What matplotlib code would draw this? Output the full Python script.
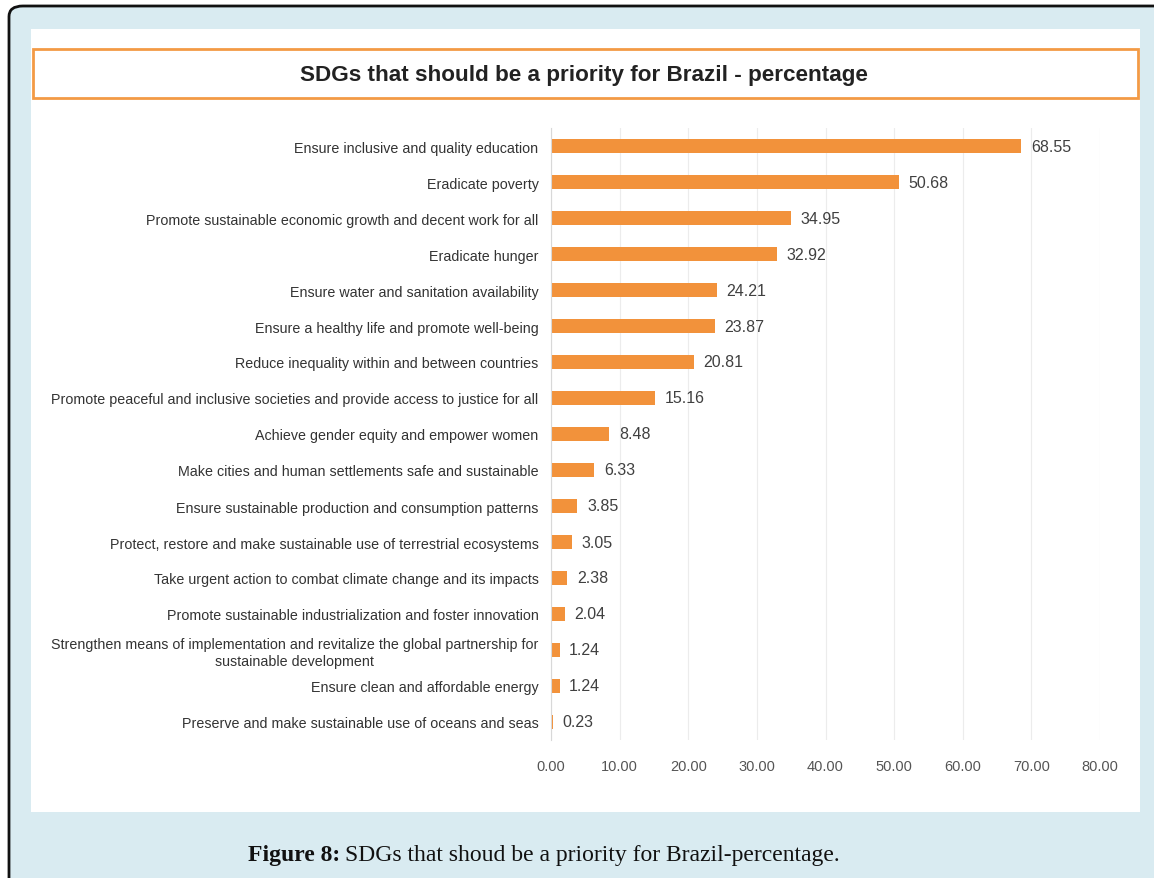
import matplotlib.pyplot as plt
from matplotlib.patches import FancyBboxPatch, Rectangle

categories = [
    'Ensure inclusive and quality education',
    'Eradicate poverty',
    'Promote sustainable economic growth and decent work for all',
    'Eradicate hunger',
    'Ensure water and sanitation availability',
    'Ensure a healthy life and promote well-being',
    'Reduce inequality within and between countries',
    'Promote peaceful and inclusive societies and provide access to justice for all',
    'Achieve gender equity and empower women',
    'Make cities and human settlements safe and sustainable',
    'Ensure sustainable production and consumption patterns',
    'Protect, restore and make sustainable use of terrestrial ecosystems',
    'Take urgent action to combat climate change and its impacts',
    'Promote sustainable industrialization and foster innovation',
    'Strengthen means of implementation and revitalize the global partnership for\nsustainable development',
    'Ensure clean and affordable energy',
    'Preserve and make sustainable use of oceans and seas',
]
values = [68.55, 50.68, 34.95, 32.92, 24.21, 23.87, 20.81, 15.16, 8.48, 6.33,
          3.85, 3.05, 2.38, 2.04, 1.24, 1.24, 0.23]
xticks = [0, 10, 20, 30, 40, 50, 60, 70, 80]

W, H = 1154, 879
fig = plt.figure(figsize=(W / 100, H / 100), dpi=100)
fig.patch.set_facecolor('white')

def fx(px):
    return px / W

def fy(py):
    return 1 - py / H

# outer rounded frame
frame = FancyBboxPatch((fx(9), fy(900)), fx(1180), 893 / H,
                       boxstyle='round,pad=0,rounding_size=0.012',
                       transform=fig.transFigure, facecolor='#d9ebf1',
                       edgecolor='#111111', linewidth=2, zorder=0)
fig.patches.append(frame)

# white chart panel
fig.patches.append(Rectangle((fx(31), fy(813)), fx(1109), 783 / H,
                             transform=fig.transFigure, facecolor='white',
                             edgecolor='none', zorder=1))

# title box
fig.patches.append(Rectangle((fx(33), fy(99)), fx(1105), 49 / H,
                             transform=fig.transFigure, facecolor='white',
                             edgecolor='#f39a45', linewidth=2, zorder=2))
fig.text(fx(584), fy(75), 'SDGs that should be a priority for Brazil - percentage',
         ha='center', va='center', fontsize=16.2, fontweight='bold',
         family='Liberation Sans', color='#222222', zorder=3)

ax = fig.add_axes([fx(551), fy(741), fx(1100) - fx(551), (741 - 129) / H])
ax.set_zorder(3)
ax.patch.set_alpha(0)

y = list(range(len(categories)))
ax.barh(y, values, height=0.4, color='#f2923b', zorder=2)
for yi, v in zip(y, values):
    ax.text(v + 1.4, yi, f'{v:.2f}', va='center', ha='left', fontsize=11.5,
            family='Liberation Sans', color='#404040')

ax.set_ylim(len(categories) - 0.5, -0.5)
ax.set_xlim(0, 80)
ax.set_yticks(y)
ax.set_yticklabels(categories, fontsize=10.3, family='Liberation Sans', color='#333333')
for lab in ax.get_yticklabels():
    lab.set_multialignment('center')
ax.set_xticks(xticks)
ax.set_xticklabels([f'{t:.2f}' for t in xticks], fontsize=10.5,
                   family='Liberation Sans', color='#555555')
ax.tick_params(axis='y', length=0, pad=9)
ax.tick_params(axis='x', length=0, pad=14)
ax.grid(axis='x', color='#ececec', linewidth=0.8, zorder=0)
for s in ['top', 'right', 'bottom']:
    ax.spines[s].set_visible(False)
ax.spines['left'].set_color('#d8d8d8')

# caption
fig.text(fx(248), fy(856), 'Figure 8:', ha='left', va='center', fontsize=17,
         fontweight='bold', family='Liberation Serif', color='#111111')
fig.text(fx(345), fy(856), 'SDGs that shoud be a priority for Brazil-percentage.',
         ha='left', va='center', fontsize=17, family='Liberation Serif',
         color='#111111')

fig.savefig('out.png', dpi=100)
